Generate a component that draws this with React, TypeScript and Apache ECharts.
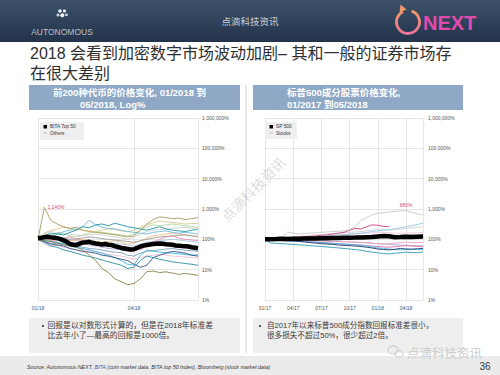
import { useEffect, useRef } from "react";
import * as echarts from "echarts";

const LATIN = "'Liberation Sans', 'Noto Sans CJK SC', sans-serif";
const CJK = "'Noto Sans CJK SC', 'Liberation Sans', sans-serif";

// ---- Tick labels ----
const LEFT_X_LABELS = ["01/18", "04/18"]; // every 3 months from Jan 2018
const RIGHT_X_LABELS = ["01/17", "04/17", "07/17", "10/17", "01/18", "04/18"];
const Y_LABELS = ["1%", "10%", "100%", "1,000%", "10,000%", "100,000%", "1,000,000%"];

// ---- Left chart: BITA Top 50 (step 0.1 month) ----
const BITA_TOP50 = [
  108, 112, 118, 122, 116, 113, 109, 102, 92, 83, 70, 66, 65, 72, 78, 80, 83, 77, 73, 71,
  68, 70, 66, 65, 60, 56, 52, 50, 48, 46, 47, 52, 58, 62, 65, 68, 70, 72, 73, 71,
  69, 68, 66, 63, 62, 60, 59, 58, 55, 53, 51,
];
// Others (step 0.2 month)
const COIN_A = [100, 1140, 420, 320, 260, 230, 250, 200, 180, 170, 160, 150, 140, 130, 120, 130, 200, 320, 450, 550, 520, 480, 500, 450, 480, 520];
const COIN_B = [100, 130, 160, 150, 140, 170, 200, 260, 240, 300, 320, 280, 340, 300, 260, 240, 220, 200, 230, 260, 220, 200, 190, 180, 200, 210];
const COIN_C = [100, 80, 60, 55, 45, 40, 35, 30, 27, 24, 21, 18, 16, 14, 11, 12, 20, 28, 25, 22, 20, 18, 17, 16, 15, 14];
const COIN_D = [100, 140, 120, 150, 180, 200, 220, 260, 430, 300, 250, 230, 220, 200, 180, 170, 160, 150, 170, 180, 190, 170, 160, 170, 160, 150];
const COIN_E = [100, 90, 85, 75, 65, 60, 55, 45, 30, 20, 11, 8, 5, 4, 3.2, 3.5, 5, 8.6, 9, 8, 8.5, 7.7, 7, 7.5, 7, 6.5];
const COIN_F = [100, 85, 70, 65, 60, 50, 45, 40, 38, 35, 30, 28, 25, 22, 20, 15, 12, 14, 25, 30, 35, 40, 38, 35, 30, 28];
const COIN_G = [100, 120, 90, 100, 110, 120, 100, 90, 85, 80, 75, 70, 65, 60, 55, 50, 45, 60, 80, 100, 120, 130, 110, 100, 95, 90];
const COIN_H = [100, 70, 60, 65, 55, 50, 45, 40, 42, 38, 35, 32, 30, 28, 25, 22, 25, 28, 30, 32, 30, 28, 27, 26, 25, 24];
const COIN_I = [100, 150, 180, 170, 160, 150, 140, 130, 140, 150, 140, 130, 120, 110, 100, 120, 150, 180, 200, 210, 220, 230, 240, 250, 230, 240];
const COIN_J = [100, 110, 140, 160, 150, 130, 120, 140, 160, 180, 170, 160, 150, 140, 130, 150, 200, 260, 300, 280, 300, 320, 300, 280, 260, 250];
const COIN_K = [100, 90, 110, 120, 100, 90, 95, 100, 90, 85, 80, 85, 90, 80, 70, 75, 90, 110, 130, 140, 150, 160, 150, 140, 130, 120];
const COIN_L = [100, 110, 90, 80, 70, 75, 80, 70, 65, 60, 55, 50, 48, 45, 40, 42, 50, 60, 65, 70, 68, 65, 60, 58, 55, 52];
const COIN_M = [100, 95, 85, 80, 70, 60, 55, 50, 45, 40, 35, 30, 25, 20, 15, 14, 30, 45, 40, 38, 36, 35, 33, 32, 30, 31];
const COIN_N = [100, 130, 110, 120, 100, 95, 90, 85, 80, 75, 70, 72, 75, 70, 65, 60, 70, 80, 85, 90, 95, 100, 95, 90, 85, 80];
const COIN_O = [100, 120, 140, 120, 110, 100, 105, 110, 120, 115, 105, 100, 95, 90, 85, 80, 90, 100, 110, 120, 125, 130, 135, 140, 130, 125];
const COIN_P = [100, 160, 200, 220, 250, 230, 210, 200, 190, 180, 200, 220, 210, 190, 180, 200, 250, 300, 350, 400, 380, 360, 340, 320, 330, 340];
const COIN_Q = [100, 80, 75, 70, 72, 65, 60, 55, 50, 48, 45, 40, 38, 36, 30, 28, 35, 40, 42, 45, 48, 50, 46, 44, 42, 40];
const COIN_PEAK = 1140;

// ---- Right chart: S&P 500 and stocks (step 0.6 month from Jan 2017) ----
const SP500 = [100, 101, 102, 104, 103, 104, 105, 106, 107, 106, 108, 109, 110, 111, 112, 113, 114, 116, 118, 120, 124, 128, 126, 118, 119, 121, 120, 122, 123];
const STOCK_A = [100, 105, 110, 115, 175, 160, 150, 155, 160, 165, 170, 175, 180, 185, 190, 210, 260, 430, 520, 650, 720, 760, 800, 840, 870, 880, 780, 690, 640];
const STOCK_B = [100, 102, 105, 110, 112, 115, 118, 120, 125, 130, 135, 140, 150, 160, 170, 200, 230, 220, 260, 300, 290, 270, 260];
const STOCK_C = [100, 102, 104, 106, 108, 110, 112, 115, 118, 120, 125, 130, 135, 140, 145, 150, 155, 160, 170, 180, 190, 200, 210, 220, 240, 260, 280, 310, 340];
const STOCK_D = [100, 75, 74, 72, 70, 68, 66, 64, 62, 60, 58, 56, 54, 52, 50, 48, 46, 44, 40, 38, 36, 34, 33, 35, 36, 38, 37, 36, 38];
const STOCK_E = [100, 98, 95, 92, 90, 88, 85, 82, 78, 75, 72, 70, 68, 65, 63, 62, 60, 58, 55, 52, 48, 46, 45, 47, 50, 48, 47, 49, 50];
const STOCK_F = [100, 102, 100, 98, 97, 96, 95, 93, 92, 90, 88, 87, 86, 85, 84, 83, 82, 80, 78, 75, 72, 70, 72, 75, 78, 80, 78, 77, 79];
const STOCK_G = [100, 104, 108, 112, 115, 118, 120, 122, 125, 128, 130, 132, 135, 138, 140, 145, 150, 155, 160, 165, 170, 168, 165, 160, 158, 160, 162, 165, 170];
const STOCK_H = [100, 105, 110, 115, 118, 120, 125, 130, 135, 140, 145, 150, 155, 160, 165, 170, 175, 180, 190, 200, 210, 205, 200, 210, 220, 230, 240, 250, 260];
const STOCK_I = [100, 97, 94, 92, 90, 88, 86, 84, 82, 80, 78, 76, 74, 72, 70, 68, 66, 64, 60, 56, 52, 50, 48, 46, 45, 47, 48, 46, 45];
const STOCK_J = [100, 99, 98, 97, 96, 95, 94, 93, 92, 90, 89, 88, 86, 85, 84, 82, 80, 78, 76, 74, 72, 70, 68, 66, 65, 64, 63, 62, 62];
const STOCK_K = [100, 101, 103, 105, 106, 108, 110, 112, 113, 115, 116, 118, 120, 122, 124, 126, 128, 130, 135, 140, 138, 136, 134, 135, 136, 138, 140, 142, 145];
const STOCK_L = [100, 98, 96, 94, 92, 90, 88, 85, 82, 80, 78, 76, 74, 72, 70, 68, 66, 64, 62, 60, 58, 56, 55, 57, 60, 62, 60, 58, 57];
const STOCK_PEAK = 880;

const LEFT_OTHERS = [COIN_I, COIN_N, COIN_H, COIN_K, COIN_L, COIN_O, COIN_Q, COIN_J, COIN_P, COIN_G, COIN_M, COIN_F, COIN_C, COIN_D, COIN_B, COIN_E, COIN_A];
const LEFT_COLORS = ["#cfcfcf", "#a9cbe8", "#f3c1cf", "#f2c08a", "#b9a9d6", "#9a9a9a", "#7f9fbf", "#b5d59b", "#d6c98f", "#e890b0", "#3ab6d8", "#2f4f8a", "#2a8fa0", "#6fb8e0", "#1f9aa6", "#8a8048", "#a89a5a"];
const RIGHT_OTHERS = [STOCK_H, STOCK_K, STOCK_G, STOCK_J, STOCK_F, STOCK_L, STOCK_I, STOCK_E, STOCK_D, STOCK_C, STOCK_B, STOCK_A];
const RIGHT_COLORS = ["#d4d4d4", "#b7d4ec", "#f4c6d4", "#b8aad8", "#e8a0c0", "#d070a8", "#4cb8e0", "#1e3a6a", "#2a9bb0", "#8ec5e8", "#c8407f", "#c9c9c9"];

const LEFT_MAX = 5; // months shown
const RIGHT_MAX = 16.8;
const LEFT_STEP = 0.2;
const BITA_STEP = 0.1;
const RIGHT_STEP = 0.6;

const pts = (vals: number[], step: number) => vals.map((v, i) => [i * step, v]);

export default function App() {
  const ref = useRef<HTMLDivElement>(null);
  useEffect(() => {
    const chart = echarts.init(ref.current!, null, { renderer: "svg" });

    const yAxis = (gridIndex: number, margin: number) => ({
      type: "log",
      logBase: 10,
      gridIndex,
      min: 1,
      max: 1000000,
      splitNumber: 6,
      position: "right",
      axisLine: { show: false },
      axisTick: { show: false },
      axisLabel: {
        fontSize: 5,
        color: "#555",
        margin,
        fontFamily: LATIN,
        formatter: (v: number) => Y_LABELS[Math.round(Math.log10(v))] ?? "",
      },
      splitLine: { show: true, lineStyle: { color: "#dadada", width: 0.7 } },
    });
    const xAxis = (gridIndex: number, max: number, labels: string[]) => ({
      type: "value",
      gridIndex,
      min: 0,
      max,
      interval: 3,
      axisLine: { show: false },
      axisTick: { show: false },
      axisLabel: {
        fontSize: 5,
        color: "#555",
        margin: 5,
        fontFamily: LATIN,
        showMaxLabel: false,
        formatter: (v: number) => (Number.isInteger(v / 3) ? labels[v / 3] ?? "" : ""),
      },
      splitLine: { show: true, lineStyle: { color: "#dadada", width: 0.7 } },
    });

    const series: any[] = [];
    LEFT_OTHERS.forEach((vals, i) => {
      const s: any = {
        type: "line", xAxisIndex: 0, yAxisIndex: 0, data: pts(vals, LEFT_STEP),
        showSymbol: false, symbol: "none", silent: true, z: 2,
        lineStyle: { color: LEFT_COLORS[i], width: 0.9 },
      };
      if (vals === COIN_A) {
        s.markPoint = {
          symbol: "circle", symbolSize: 0, silent: true,
          data: [{ coord: [vals.indexOf(COIN_PEAK) * LEFT_STEP, COIN_PEAK], value: COIN_PEAK }],
          label: { show: true, position: "right", distance: 3, formatter: "1,140%", color: "#d04a8a", fontSize: 5, fontFamily: LATIN },
        };
      }
      series.push(s);
    });
    series.push({
      type: "line", xAxisIndex: 0, yAxisIndex: 0, data: pts(BITA_TOP50, BITA_STEP),
      showSymbol: false, symbol: "none", silent: true, z: 5,
      lineStyle: { color: "#000", width: 4.5 },
    });
    RIGHT_OTHERS.forEach((vals, i) => {
      const s: any = {
        type: "line", xAxisIndex: 1, yAxisIndex: 1, data: pts(vals, RIGHT_STEP),
        showSymbol: false, symbol: "none", silent: true, z: 2,
        lineStyle: { color: RIGHT_COLORS[i], width: 0.9 },
      };
      if (vals === STOCK_A) {
        s.markPoint = {
          symbol: "circle", symbolSize: 0, silent: true,
          data: [{ coord: [vals.indexOf(STOCK_PEAK) * RIGHT_STEP, STOCK_PEAK], value: STOCK_PEAK }],
          label: { show: true, position: "top", distance: 3, formatter: "880%", color: "#d04a8a", fontSize: 5, fontFamily: LATIN },
        };
      }
      series.push(s);
    });
    series.push({
      type: "line", xAxisIndex: 1, yAxisIndex: 1, data: pts(SP500, RIGHT_STEP),
      showSymbol: false, symbol: "none", silent: true, z: 5,
      lineStyle: { color: "#000", width: 4.5 },
    });

    const txt = (text: string, x: number, y: number, o: any = {}, z = 20) => ({
      type: "text", x, y, z, silent: true,
      style: { text, fill: "#333", fontSize: 8, fontFamily: CJK, align: "left", verticalAlign: "middle", ...o },
    });
    const rect = (x: number, y: number, w: number, h: number, fill: any, z = 0) => ({
      type: "rect", z, silent: true, shape: { x, y, width: w, height: h }, style: { fill },
    });
    const bullet = (cx: number, cy: number) => ({
      type: "circle", z: 20, silent: true, shape: { cx, cy, r: 1.1 }, style: { fill: "#444" },
    });

    const graphic: any[] = [
      // header
      rect(0, 0, 500, 42, new echarts.graphic.LinearGradient(0, 0, 0, 1, [
        { offset: 0, color: "#3d526a" }, { offset: 1, color: "#22334a" },
      ])),
      { type: "circle", z: 1, shape: { cx: 60, cy: 11, r: 1.8 }, style: { fill: "#e8eef4" } },
      { type: "circle", z: 1, shape: { cx: 64.5, cy: 11, r: 1.6 }, style: { fill: "#e8eef4" } },
      { type: "circle", z: 1, shape: { cx: 58, cy: 15, r: 1.5 }, style: { fill: "#cfd8e2" } },
      { type: "circle", z: 1, shape: { cx: 62.3, cy: 15.2, r: 2 }, style: { fill: "#ffffff" } },
      { type: "circle", z: 1, shape: { cx: 66.5, cy: 14.8, r: 1.4 }, style: { fill: "#cfd8e2" } },
      txt("AUTONOMOUS", 62, 31.5, { fill: "#b3c0ce", fontSize: 8.5, fontFamily: LATIN, align: "center" }),
      txt("点滴科技资讯", 250, 21, { fill: "#c8d0da", fontSize: 9.5, align: "center" }),
      {
        type: "arc", z: 2, silent: true,
        shape: { cx: 408, cy: 22, r: 11.5, startAngle: -1.25, endAngle: 4.25, clockwise: true },
        style: {
          fill: "none", lineWidth: 2.8,
          stroke: new echarts.graphic.LinearGradient(0, 0, 0, 1, [
            { offset: 0, color: "#f49a6a" }, { offset: 1, color: "#f0749a" },
          ]),
        },
      },
      { type: "polygon", z: 2, silent: true, shape: { points: [[400.5, 4.5], [399.5, 12.5], [406.5, 9.5]] }, style: { fill: "#f49a6a" } },
      txt("NEXT", 423, 22.5, { fill: "#e34aae", fontSize: 20, fontWeight: "bold", fontFamily: LATIN }),

      // title
      txt("2018 会看到加密数字市场波动加剧– 其和一般的证券市场存", 30, 53.5, { fontSize: 16, fill: "#2f2f2f", fontFamily: LATIN, lineHeight: 17 }),
      txt("在很大差别", 30, 73.5, { fontSize: 16, fill: "#2f2f2f", fontFamily: LATIN, lineHeight: 17 }),

      // panel headers
      rect(29, 85, 211, 25, "#8ea8c6"),
      rect(253, 85, 210, 25, "#8ea8c6"),
      txt("前200种代币的价格变化, 01/2018 到", 53, 92, { fill: "#fff", fontSize: 9.5, fontWeight: "bold", fontFamily: LATIN, lineHeight: 10 }),
      txt("05/2018, Log%", 80, 104, { fill: "#fff", fontSize: 9.5, fontWeight: "bold", fontFamily: LATIN, lineHeight: 10 }),
      txt("标普500成分股票价格变化,", 287, 92, { fill: "#fff", fontSize: 9.5, fontWeight: "bold", fontFamily: LATIN, lineHeight: 10 }),
      txt("01/2017 到05/2018", 287, 104, { fill: "#fff", fontSize: 9.5, fontWeight: "bold", fontFamily: LATIN, lineHeight: 10 }),

      // separator
      { type: "line", z: 1, silent: true, shape: { x1: 246, y1: 85, x2: 246, y2: 353 }, style: { stroke: "#d4d4d4", lineWidth: 1 } },

      // legends
      rect(40, 122, 44, 18, "#efefef", 10),
      rect(43.5, 125, 3.5, 3.5, "#000", 11),
      txt("BITA Top 50", 50, 126.8, { fontSize: 4.8, fill: "#333", fontFamily: LATIN, lineHeight: 5.5 }, 11),
      { type: "line", z: 11, silent: true, shape: { x1: 43.5, y1: 133, x2: 47, y2: 133 }, style: { stroke: "#999", lineWidth: 0.6 } },
      txt("Others", 50, 133, { fontSize: 4.8, fill: "#333", fontFamily: LATIN, lineHeight: 5.5 }, 11),
      rect(265, 122, 32, 17, "#efefef", 10),
      rect(269.5, 125, 3.5, 3.5, "#000", 11),
      txt("SP 500", 276, 126.8, { fontSize: 4.8, fill: "#333", fontFamily: LATIN, lineHeight: 5.5 }, 11),
      { type: "line", z: 11, silent: true, shape: { x1: 269.5, y1: 133, x2: 273, y2: 133 }, style: { stroke: "#999", lineWidth: 0.6 } },
      txt("Stocks", 276, 133, { fontSize: 4.8, fill: "#333", fontFamily: LATIN, lineHeight: 5.5 }, 11),

      // text boxes
      rect(29, 318, 211, 35, "#eeeeee"),
      rect(253, 318, 210, 35, "#eeeeee"),
      bullet(43, 326),
      txt("回报是以对数形式计算的，但是在2018年标准差", 47.5, 325.7, { fontSize: 7.8, fill: "#3a3a3a", fontFamily: LATIN, lineHeight: 8.8 }),
      txt("比去年小了—最高的回报是1000倍。", 47.5, 335.5, { fontSize: 7.8, fill: "#3a3a3a", fontFamily: LATIN, lineHeight: 8.8 }),
      bullet(260, 326),
      txt("自2017年以来标普500成分指数回报标准差很小，", 267, 325.7, { fontSize: 7.6, fill: "#3a3a3a", fontFamily: LATIN, lineHeight: 8.6 }),
      txt("很多损失不超过50%，很少超过2倍。", 267, 335.5, { fontSize: 7.6, fill: "#3a3a3a", fontFamily: LATIN, lineHeight: 8.6 }),

      // footer
      rect(0, 356, 500, 19, "#ebebeb"),
      {
        type: "text", x: 27, y: 366.5, z: 20, silent: true,
        style: {
          text: "Source: Autonomous NEXT, {b|BITA} (coin market data, BITA top 50 Index), Bloomberg (stock market data)",
          fill: "#333", fontSize: 5.3, fontStyle: "italic", fontFamily: LATIN, verticalAlign: "middle",
          rich: { b: { fill: "#2a5fb8", fontSize: 5.3, fontStyle: "italic", fontFamily: LATIN } },
        },
      },
      txt("36", 485, 366, { fontSize: 10, fill: "#333", fontFamily: LATIN, align: "center" }),

      // watermarks
      {
        type: "text", x: 253, y: 189, rotation: Math.PI / 4, z: 30, silent: true,
        style: { text: "点滴科技资讯", fill: "rgba(190,190,190,0.55)", fontSize: 14, fontFamily: CJK, align: "center", verticalAlign: "middle" },
      },
      { type: "ellipse", z: 30, silent: true, shape: { cx: 393, cy: 350, rx: 5, ry: 4.2 }, style: { fill: "none", stroke: "#c8c8c8", lineWidth: 1 } },
      { type: "ellipse", z: 30, silent: true, shape: { cx: 399, cy: 354, rx: 4, ry: 3.4 }, style: { fill: "none", stroke: "#c8c8c8", lineWidth: 1 } },
      txt("点滴科技资讯", 407, 352, { fontSize: 12.5, fill: "rgba(200,200,200,0.9)" }, 30),
    ];

    chart.setOption({
      animation: false,
      backgroundColor: "#ffffff",
      grid: [
        { left: 38, right: 302, top: 118, height: 182 },
        { left: 265, right: 77, top: 118, height: 182 },
      ],
      xAxis: [xAxis(0, LEFT_MAX, LEFT_X_LABELS), xAxis(1, RIGHT_MAX, RIGHT_X_LABELS)],
      yAxis: [yAxis(0, 4), yAxis(1, 5)],
      series,
      graphic,
    });
    return () => chart.dispose();
  }, []);
  return <div ref={ref} style={{ position: "fixed", left: 0, top: 0, width: 500, height: 375 }} />;
}
